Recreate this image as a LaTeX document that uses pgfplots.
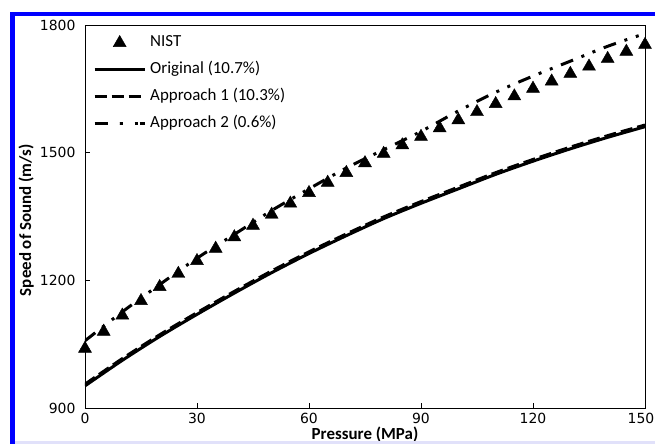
\documentclass[border=0pt]{standalone}
\usepackage{fontspec}
\setmainfont{Carlito}
\newfontfamily\dejavu{DejaVu Sans}
\usepackage{pgfplots}
\pgfplotsset{compat=1.18}
\usepackage{pgfplotstable}
\definecolor{frameblue}{RGB}{0,0,255}
\definecolor{framelav}{RGB}{225,225,250}

\pgfplotstableread{
p v
0 1044
5 1084
10 1122
15 1156
20 1189
25 1220
30 1250
35 1279
40 1306
45 1333
50 1359
55 1385
60 1410
65 1434
70 1457
75 1480
80 1502
85 1522
90 1542
95 1562
100 1581
105 1600
110 1619
115 1637
120 1655
125 1672
130 1690
135 1707
140 1725
145 1742
150 1758
}\nist

\pgfplotstableread{
p v
0 952
10 1012
20 1068
30 1120
40 1170
50 1218
60 1263
70 1305
80 1345
90 1381
100 1415
110 1449
120 1480
130 1509
140 1536
150 1561
}\orig

\pgfplotstableread{
p v
0 956
10 1016
20 1072
30 1124
40 1174
50 1222
60 1267
70 1309
80 1349
90 1385
100 1419
110 1453
120 1484
130 1513
140 1540
150 1565
}\appa

\pgfplotstableread{
p v
0 1058
10 1126
20 1190
30 1252
40 1308
50 1364
60 1415
70 1464
80 1507
90 1550
100 1598
110 1642
120 1680
130 1715
140 1750
150 1780
}\appb

\begin{document}
\begin{tikzpicture}
\begin{axis}[
  scale only axis, width=560bp, height=383bp,
  xmin=0, xmax=150, ymin=900, ymax=1800,
  xtick={0,30,...,120}, ytick={900,1200,1500,1800},
  extra x ticks={150},
  extra x tick style={xticklabel style={xshift=-4bp}},
  tick align=inside, tick pos=left,
  major tick length=5bp,
  axis line style={line width=0.8bp},
  every tick/.style={black, line width=0.8bp},
  /pgf/number format/assume math mode=true,
  /pgf/number format/1000 sep={},
  ticklabel style={font=\dejavu\fontsize{14}{16}\selectfont},
  yticklabel style={xshift=-6bp},
  xticklabel style={yshift=-2bp},
  xlabel={Pressure (MPa)},
  ylabel={Speed of Sound (m/s)},
  xlabel style={font=\bfseries\fontsize{17}{20}\selectfont, at={(axis description cs:0.5,0)}, anchor=base, yshift=-31.5bp},
  ylabel style={font=\bfseries\fontsize{17}{20}\selectfont, at={(axis description cs:-0.0964,0.49)}, anchor=base},
  clip mode=individual,
  legend cell align=left,
  legend style={at={(0,1)}, anchor=north west, xshift=8bp, yshift=-9.7bp,
    draw=none, fill=none, inner sep=0pt, row sep=11bp, column sep=4bp,
    font=\fontsize{17}{20}\selectfont,
    nodes={inner xsep=0pt, inner ysep=0pt, text height=12bp, text depth=4bp}},
  legend image code/.code={\draw[mark repeat=2,mark phase=2,#1] plot coordinates {(0bp,0bp) (25bp,0bp) (50bp,0bp)};},
]
\addlegendimage{only marks, mark=triangle*, mark size=7.5bp, black}
\addlegendentry{NIST}
\addlegendimage{black, line width=3bp}
\addlegendentry{Original (10.7\%)}
\addlegendimage{black, line width=3bp, dash pattern=on 12bp off 5bp}
\addlegendentry{Approach 1 (10.3\%)}
\addlegendimage{black, line width=3bp, dash pattern=on 13bp off 12bp on 3bp off 12bp on 3bp off 2bp}
\addlegendentry{Approach 2 (0.6\%)}

\addplot[black, line width=3bp, smooth, forget plot] table[x=p,y=v]{\orig};
\addplot[black, line width=3bp, smooth, dash pattern=on 12bp off 5bp, forget plot] table[x=p,y=v]{\appa};
\addplot[black, line width=3bp, smooth, dash pattern=on 13bp off 9bp on 3bp off 9bp on 3bp off 9bp, forget plot] table[x=p,y=v]{\appb};
\addplot[only marks, mark=triangle*, mark size=7.5bp, black, mark options={yshift=-1.875bp}, forget plot] table[x=p,y=v]{\nist};

\coordinate (BL) at (rel axis cs:0,0);
\end{axis}
\fill[frameblue] ([shift={(-75bp,-36bp)}]BL) rectangle ([shift={(-70bp,396bp)}]BL);
\fill[frameblue] ([shift={(-75bp,391.5bp)}]BL) rectangle ([shift={(570bp,396bp)}]BL);
\fill[framelav] ([shift={(-70bp,-36bp)}]BL) rectangle ([shift={(570bp,-33bp)}]BL);
\pgfresetboundingbox
\path[use as bounding box] ([shift={(-85bp,-36bp)}]BL) rectangle ([shift={(570bp,408bp)}]BL);
\end{tikzpicture}
\end{document}
